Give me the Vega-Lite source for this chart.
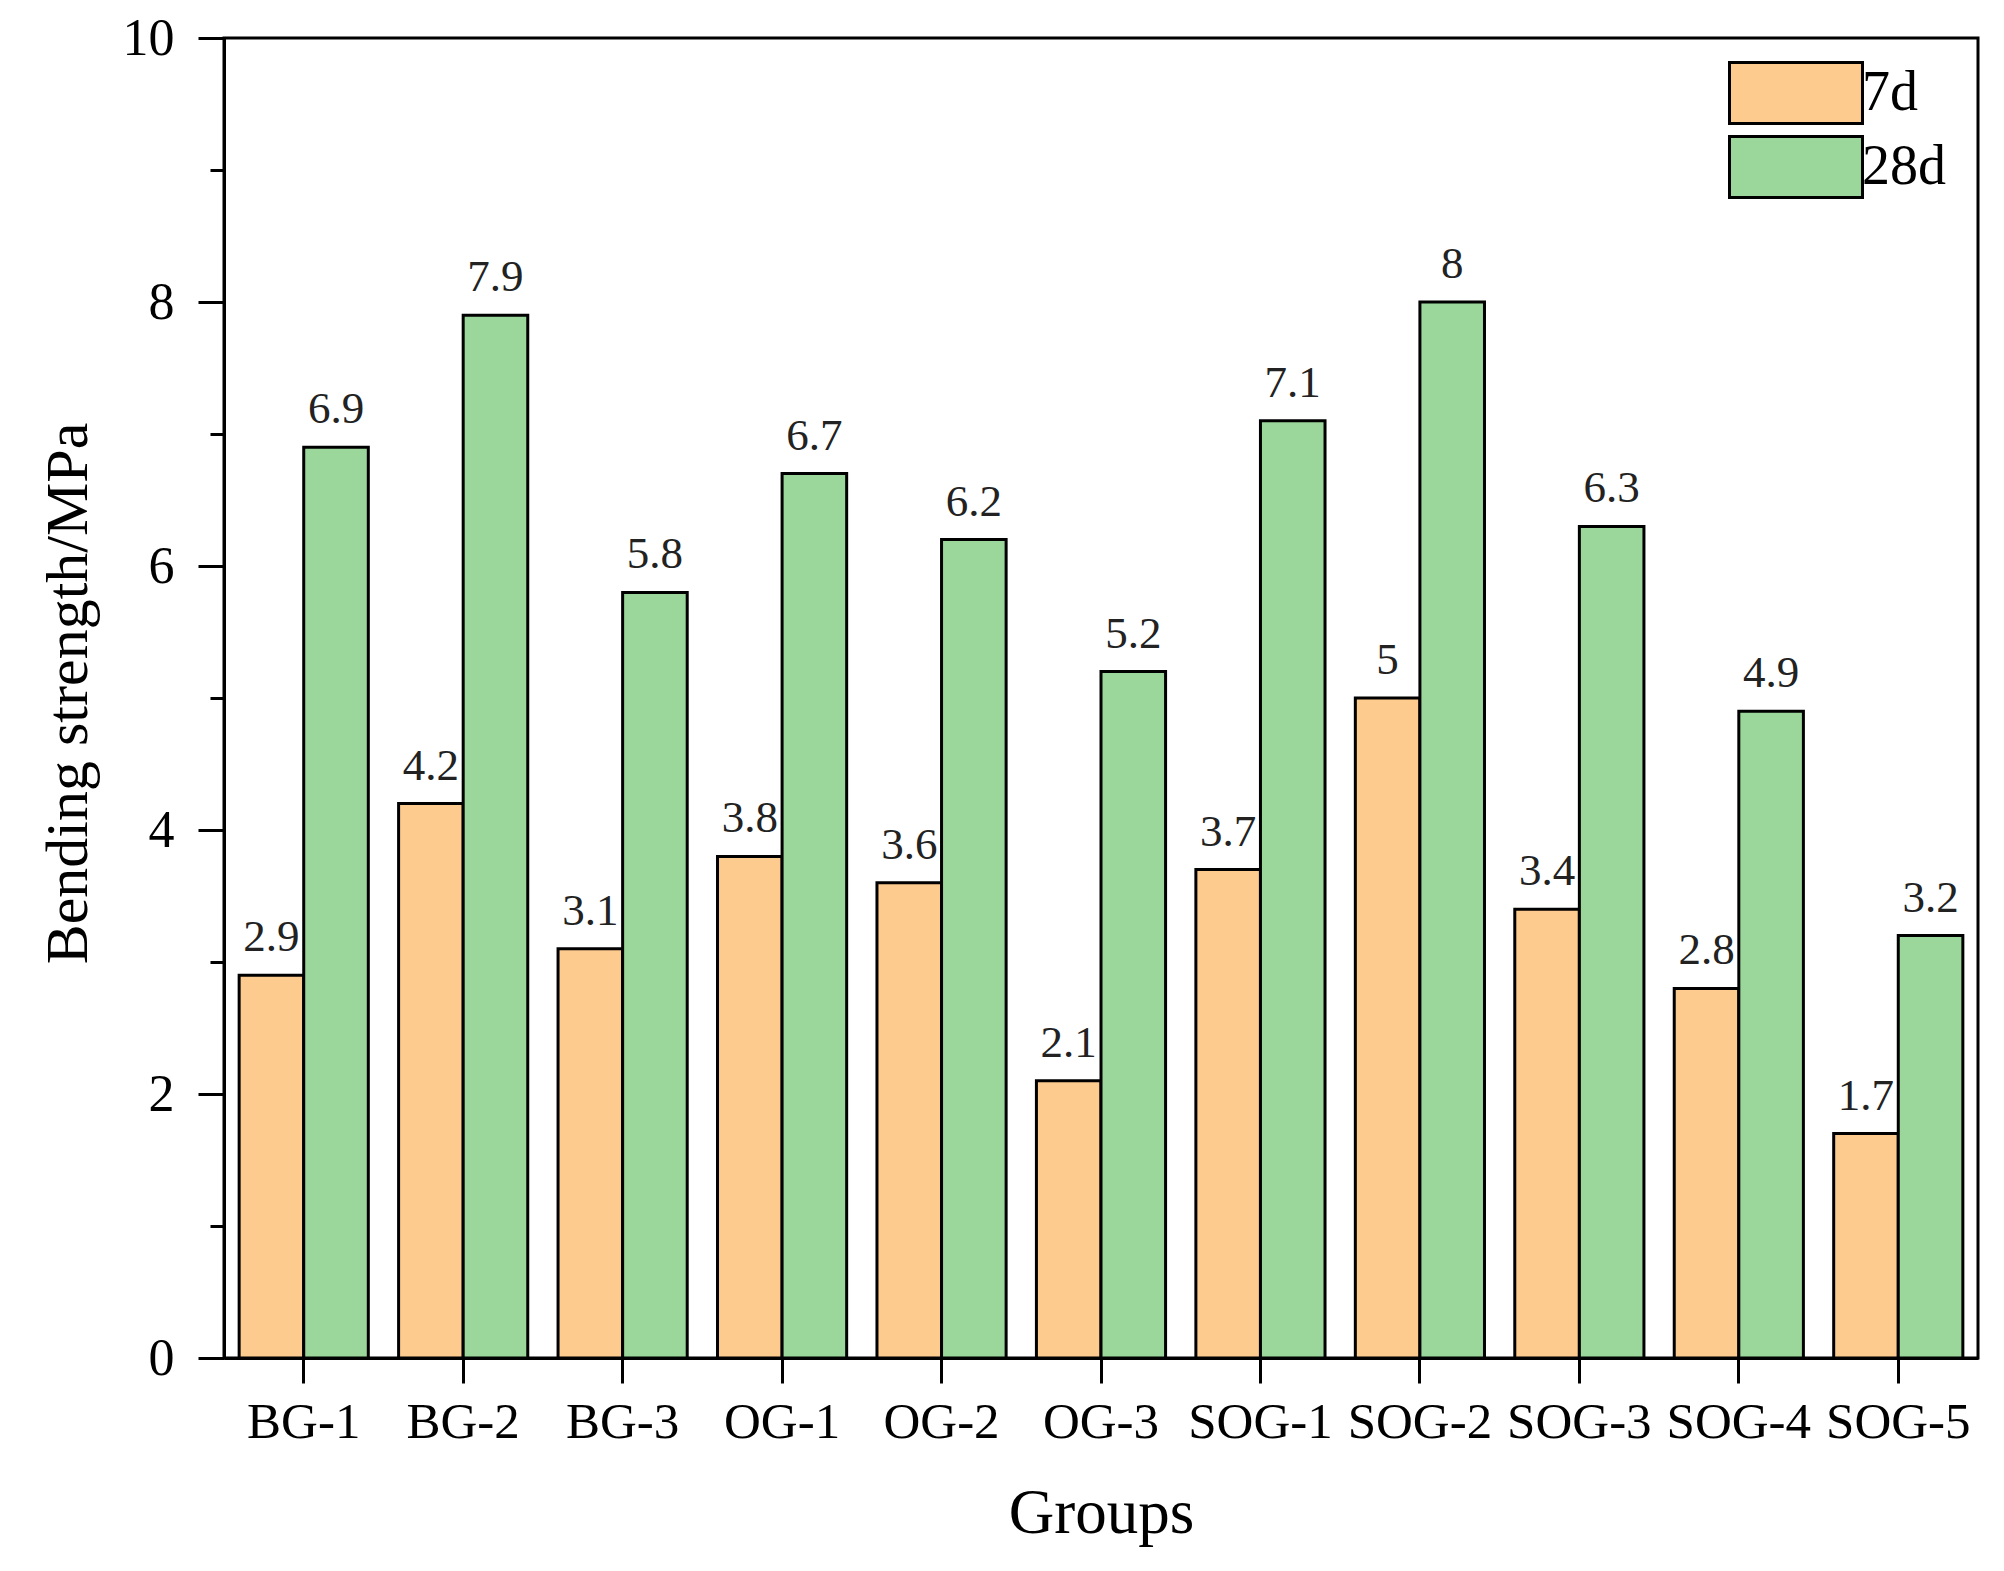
{
  "$schema": "https://vega.github.io/schema/vega-lite/v6.json",
  "width": 1754,
  "height": 1320,
  "autosize": {"type": "none"},
  "padding": {"left": 224, "top": 38, "right": 26, "bottom": 213},
  "background": "white",
  "config": {
    "font": "Liberation Serif",
    "view": {"stroke": "black", "strokeWidth": 3},
    "axis": {"labelFont": "Liberation Serif", "titleFont": "Liberation Serif", "labelColor": "black", "titleColor": "black", "titleFontWeight": "normal", "domainColor": "black", "tickColor": "black", "domainWidth": 3, "tickWidth": 3, "grid": false},
    "legend": {"labelFont": "Liberation Serif"}
  },
  "data": {
    "values": [
      {"group": "BG-1", "age": "7d", "value": 2.9},
      {"group": "BG-1", "age": "28d", "value": 6.9},
      {"group": "BG-2", "age": "7d", "value": 4.2},
      {"group": "BG-2", "age": "28d", "value": 7.9},
      {"group": "BG-3", "age": "7d", "value": 3.1},
      {"group": "BG-3", "age": "28d", "value": 5.8},
      {"group": "OG-1", "age": "7d", "value": 3.8},
      {"group": "OG-1", "age": "28d", "value": 6.7},
      {"group": "OG-2", "age": "7d", "value": 3.6},
      {"group": "OG-2", "age": "28d", "value": 6.2},
      {"group": "OG-3", "age": "7d", "value": 2.1},
      {"group": "OG-3", "age": "28d", "value": 5.2},
      {"group": "SOG-1", "age": "7d", "value": 3.7},
      {"group": "SOG-1", "age": "28d", "value": 7.1},
      {"group": "SOG-2", "age": "7d", "value": 5.0},
      {"group": "SOG-2", "age": "28d", "value": 8.0},
      {"group": "SOG-3", "age": "7d", "value": 3.4},
      {"group": "SOG-3", "age": "28d", "value": 6.3},
      {"group": "SOG-4", "age": "7d", "value": 2.8},
      {"group": "SOG-4", "age": "28d", "value": 4.9},
      {"group": "SOG-5", "age": "7d", "value": 1.7},
      {"group": "SOG-5", "age": "28d", "value": 3.2}
    ]
  },
  "encoding": {
    "x": {
      "field": "group", "type": "nominal", "sort": null,
      "scale": {"paddingInner": 0.19, "paddingOuter": 0.095},
      "axis": {"title": "Groups", "labelAngle": 0, "labelFontSize": 51, "tickSize": 25, "labelPadding": 14, "titleFontSize": 63, "titleBaseline": "alphabetic", "titleY": 174}
    },
    "xOffset": {"field": "age", "type": "nominal", "sort": ["7d", "28d"], "scale": {"paddingInner": 0, "paddingOuter": 0}},
    "y": {"field": "value", "type": "quantitative", "scale": {"domain": [0, 10], "nice": false}}
  },
  "layer": [
    {
      "mark": {"type": "bar", "stroke": "black", "strokeWidth": 3, "opacity": 1},
      "encoding": {
        "y": {
          "field": "value", "type": "quantitative", "scale": {"domain": [0, 10], "nice": false},
          "axis": {"orient": "left", "values": [0, 2, 4, 6, 8, 10], "tickSize": 26, "labelPadding": 24, "labelFontSize": 52, "title": "Bending strength/MPa", "titleFontSize": 60, "titleAngle": -90, "titleBaseline": "alphabetic", "titleX": -138, "titleY": 655}
        },
        "color": {
          "field": "age", "type": "nominal",
          "scale": {"domain": ["7d", "28d"], "range": ["#FECB8F", "#9BD69B"]},
          "legend": {"title": null, "orient": "none", "legendX": 1537, "legendY": 20, "symbolType": "M-2,-0.92H2V0.92H-2Z", "symbolSize": 4422, "symbolStrokeColor": "black", "symbolStrokeWidth": 3, "symbolOpacity": 1, "labelFontSize": 56, "labelColor": "black", "labelOffset": 31, "rowPadding": 0}
        }
      }
    },
    {
      "mark": {"type": "text", "fontSize": 45, "baseline": "alphabetic", "dy": -24, "color": "#222222", "font": "Liberation Serif"},
      "encoding": {
        "text": {"field": "value", "type": "quantitative"},
        "y": {
          "field": "value", "type": "quantitative", "scale": {"domain": [0, 10], "nice": false},
          "axis": {"orient": "left", "values": [1, 3, 5, 7, 9], "tickSize": 14, "labels": false, "domain": false, "title": null}
        }
      }
    }
  ],
  "resolve": {"axis": {"y": "independent"}}
}
